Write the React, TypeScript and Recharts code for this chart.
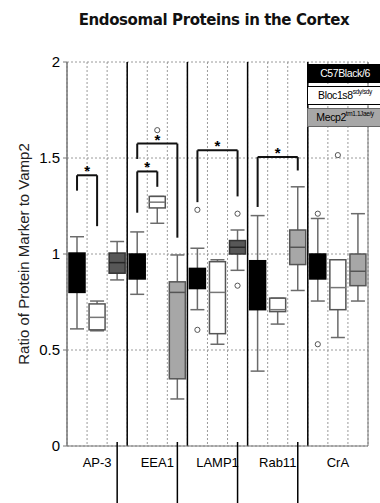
import React from 'react';
import {
  ComposedChart,
  Bar,
  XAxis,
  YAxis,
  CartesianGrid,
  ReferenceLine,
  Legend,
} from 'recharts';

const CATEGORIES = ['AP-3', 'EEA1', 'LAMP1', 'Rab11', 'CrA'];
const GROUPS = ['C57Black/6', 'Bloc1s8', 'Mecp2'];
const GROUP_SUPERSCRIPTS = ['', 'sdy/sdy', 'tm1.1Jae/y'];
const Y_TICKS = [0, 0.5, 1, 1.5, 2];

// one row per category, columns = [C57Black/6, Bloc1s8, Mecp2]
const WHISKER_LOW = [
  [0.61, 0.6, 0.865],
  [0.79, 1.16, 0.245],
  [0.71, 0.53, 0.915],
  [0.39, 0.635, 0.81],
  [0.755, 0.565, 0.755],
];
const Q1 = [
  [0.8, 0.605, 0.9],
  [0.87, 1.24, 0.35],
  [0.82, 0.585, 1.0],
  [0.71, 0.7, 0.945],
  [0.87, 0.71, 0.835],
];
const MEDIAN = [
  [0.93, 0.67, 0.955],
  [0.95, 1.27, 0.8],
  [0.87, 0.8, 1.035],
  [0.85, 0.71, 1.035],
  [0.95, 0.825, 0.91],
];
const Q3 = [
  [1.005, 0.74, 1.005],
  [1.0, 1.3, 0.855],
  [0.925, 0.96, 1.07],
  [0.965, 0.77, 1.125],
  [1.0, 0.97, 1.0],
];
const WHISKER_HIGH = [
  [1.09, 0.755, 1.065],
  [1.115, 1.3, 0.995],
  [1.03, 0.97, 1.125],
  [1.2, 0.77, 1.35],
  [1.185, 0.97, 1.21],
];
const OUTLIERS = [
  [[], [], []],
  [[], [1.645], []],
  [[1.23, 0.605], [], [1.21, 0.835]],
  [[], [], []],
  [[1.21, 0.53], [1.515], []],
];

// significance brackets: category, compared groups, bracket top and leg ends
const BRACKET_CAT = [0, 1, 1, 2, 3];
const BRACKET_FROM = [0, 0, 0, 0, 0];
const BRACKET_TO = [1, 1, 2, 2, 2];
const BRACKET_TOP = [1.41, 1.43, 1.575, 1.54, 1.505];
const BRACKET_LEFT_END = [1.33, 1.215, 1.495, 1.27, 1.245];
const BRACKET_RIGHT_END = [1.145, 1.35, 1.085, 1.3, 1.435];

const rowId = (c: number, g: number) => `${c}-${g}`;

const ROWS = CATEGORIES.flatMap((_, c) =>
  GROUPS.map((__, g) => {
    const outliers = OUTLIERS[c][g];
    const all = [WHISKER_LOW[c][g], WHISKER_HIGH[c][g], ...outliers];
    return {
      id: rowId(c, g),
      cat: c,
      group: g,
      low: WHISKER_LOW[c][g],
      q1: Q1[c][g],
      median: MEDIAN[c][g],
      q3: Q3[c][g],
      high: WHISKER_HIGH[c][g],
      outliers,
      span: [Math.min(...all), Math.max(...all)],
    };
  })
);

const FONT = '"Liberation Sans", Arial, Helvetica, sans-serif';
const WIDTH = 380;
const HEIGHT = 503;
const MARGIN = { top: 62, right: 12, bottom: 27, left: 0 };
const Y_WIDTH = 67;
const PLOT_W = WIDTH - MARGIN.left - MARGIN.right - Y_WIDTH;
const WHISKER = '#6b6b6b';
const GRID = '#9a9a9a';
const DARK_MECP2 = [0, 2]; // these categories print the Mecp2 box darker

function boxColors(cat: number, group: number) {
  if (group === 0) return { fill: '#000', stroke: '#000', median: '#000' };
  if (group === 1) return { fill: '#fff', stroke: '#555', median: '#777' };
  if (DARK_MECP2.includes(cat)) return { fill: '#575757', stroke: '#333', median: '#262626' };
  return { fill: '#a7a7a7', stroke: '#555', median: '#555' };
}

function BoxShape(props: any) {
  const { x, y, width, height, payload } = props;
  const top = Math.min(y, y + height);
  const bottom = Math.max(y, y + height);
  const [vMin, vMax] = payload.span;
  const py = (v: number) => bottom - ((v - vMin) / (vMax - vMin)) * (bottom - top);
  const cx = x + width / 2;
  const cap = 7;
  const c = boxColors(payload.cat, payload.group);
  const yHigh = py(payload.high);
  const yLow = py(payload.low);
  const yQ1 = py(payload.q1);
  const yQ3 = py(payload.q3);
  const yMed = py(payload.median);
  return (
    <g>
      <line x1={cx} x2={cx} y1={yHigh} y2={yQ3} stroke={WHISKER} strokeWidth={1.5} />
      <line x1={cx} x2={cx} y1={yQ1} y2={yLow} stroke={WHISKER} strokeWidth={1.5} />
      <line x1={cx - cap} x2={cx + cap} y1={yHigh} y2={yHigh} stroke={WHISKER} strokeWidth={1.5} />
      <line x1={cx - cap} x2={cx + cap} y1={yLow} y2={yLow} stroke={WHISKER} strokeWidth={1.5} />
      <rect
        x={x}
        y={yQ3}
        width={width}
        height={Math.max(yQ1 - yQ3, 1)}
        fill={c.fill}
        stroke={c.stroke}
        strokeWidth={1.5}
      />
      <line x1={x} x2={x + width} y1={yMed} y2={yMed} stroke={c.median} strokeWidth={1.5} />
      {payload.outliers.map((o: number, i: number) => (
        <circle key={i} cx={cx} cy={py(o)} r={2.6} fill="#fff" stroke="#555" strokeWidth={1} />
      ))}
    </g>
  );
}

function CategoryTick(props: any) {
  const { x, y, payload } = props;
  const row = ROWS.find((r) => r.id === payload.value);
  if (!row) return null;
  const band = PLOT_W / ROWS.length;
  return (
    <g>
      {row.group === 0 && row.cat > 0 && (
        <line x1={x - band} x2={x - band} y1={y - 12} y2={y + 70} stroke="#000" strokeWidth={1.5} />
      )}
      {row.group === 1 && (
        <text x={x} y={y + 13} textAnchor="middle" fontSize={13} fill="#000" fontFamily={FONT}>
          {CATEGORIES[row.cat]}
        </text>
      )}
    </g>
  );
}

function LegendBoxes() {
  const styles = [
    { background: '#000', color: '#fff', border: '1px solid #000' },
    { background: '#fff', color: '#000', border: '1.5px solid #000' },
    { background: '#a7a7a7', color: '#000', border: '1px solid #666' },
  ];
  return (
    <div style={{ fontFamily: FONT }}>
      {GROUPS.map((g, i) => (
        <div
          key={g}
          style={{
            ...styles[i],
            boxSizing: 'border-box',
            height: 19,
            marginBottom: 3,
            fontSize: 10.5,
            letterSpacing: -0.4,
            lineHeight: '17px',
            textAlign: 'center',
            whiteSpace: 'nowrap',
          }}
        >
          {g}
          {GROUP_SUPERSCRIPTS[i] && (
            <sup style={{ fontSize: 6.5, verticalAlign: 'top', lineHeight: '10px' }}>
              {GROUP_SUPERSCRIPTS[i]}
            </sup>
          )}
        </div>
      ))}
    </div>
  );
}

export default function App() {
  const gridX = (o: any) =>
    Array.from({ length: ROWS.length + 1 }, (_, i) => o.offset.left + (i * o.offset.width) / ROWS.length);
  const groupX = (o: any) =>
    [3, 6, 9, 12].map((i) => o.offset.left + (i * o.offset.width) / ROWS.length);
  const frameX = (o: any) => [o.offset.left, o.offset.left + o.offset.width];

  return (
    <div style={{ position: 'absolute', left: 0, top: 0, width: WIDTH, height: HEIGHT, background: '#fff' }}>
      <div
        style={{
          position: 'absolute',
          top: 11,
          left: 0,
          width: 428,
          textAlign: 'center',
          fontFamily: '"DejaVu Sans", Verdana, sans-serif',
          fontWeight: 'bold',
          fontSize: 15,
          letterSpacing: -0.4,
          color: '#111',
          zIndex: 2,
        }}
      >
        Endosomal Proteins in the Cortex
      </div>
      <ComposedChart width={WIDTH} height={HEIGHT} data={ROWS} margin={MARGIN}>
        <CartesianGrid
          stroke={GRID}
          strokeDasharray="2 2"
          verticalCoordinatesGenerator={gridX}
        />
        <CartesianGrid horizontal={false} stroke="#777" verticalCoordinatesGenerator={frameX} />
        <CartesianGrid horizontal={false} stroke="#000" strokeWidth={1.5} verticalCoordinatesGenerator={groupX} />
        <XAxis
          dataKey="id"
          type="category"
          height={30}
          interval={0}
          tickLine={false}
          axisLine={{ stroke: '#777' }}
          tick={<CategoryTick />}
        />
        <YAxis
          domain={[0, 2]}
          ticks={Y_TICKS}
          width={Y_WIDTH}
          tickLine={{ stroke: '#777' }}
          tickSize={4}
          tickMargin={3}
          axisLine={{ stroke: '#777' }}
          tick={{ fontSize: 15, fill: '#000', fontFamily: FONT }}
          tickFormatter={(v: number) => String(v)}
          label={{
            value: 'Ratio of Protein Marker to Vamp2',
            angle: -90,
            position: 'insideLeft',
            offset: 18,
            dx: 6,
            fontSize: 15,
            fill: '#222',
            fontFamily: FONT,
            style: { textAnchor: 'middle' },
          }}
        />
        <Bar
          dataKey={(d: any) => d.span}
          barSize={16}
          shape={<BoxShape />}
          isAnimationActive={false}
        />
        {BRACKET_CAT.map((c, i) => {
          const a = rowId(c, BRACKET_FROM[i]);
          const b = rowId(c, BRACKET_TO[i]);
          return (
            <React.Fragment key={i}>
              <ReferenceLine
                segment={[{ x: a, y: BRACKET_LEFT_END[i] }, { x: a, y: BRACKET_TOP[i] }]}
                stroke="#111"
                strokeWidth={2}
              />
              <ReferenceLine
                segment={[{ x: a, y: BRACKET_TOP[i] }, { x: b, y: BRACKET_TOP[i] }]}
                stroke="#111"
                strokeWidth={2}
                label={{ value: '*', position: 'top', offset: -1, fontSize: 15, fontWeight: 'bold', fill: '#000', fontFamily: FONT }}
              />
              <ReferenceLine
                segment={[{ x: b, y: BRACKET_TOP[i] }, { x: b, y: BRACKET_RIGHT_END[i] }]}
                stroke="#111"
                strokeWidth={2}
              />
            </React.Fragment>
          );
        })}
        <Legend
          layout="vertical"
          align="center"
          verticalAlign="middle"
          wrapperStyle={{ top: 64, left: 307, width: 76 }}
          content={() => <LegendBoxes />}
        />
      </ComposedChart>
    </div>
  );
}
